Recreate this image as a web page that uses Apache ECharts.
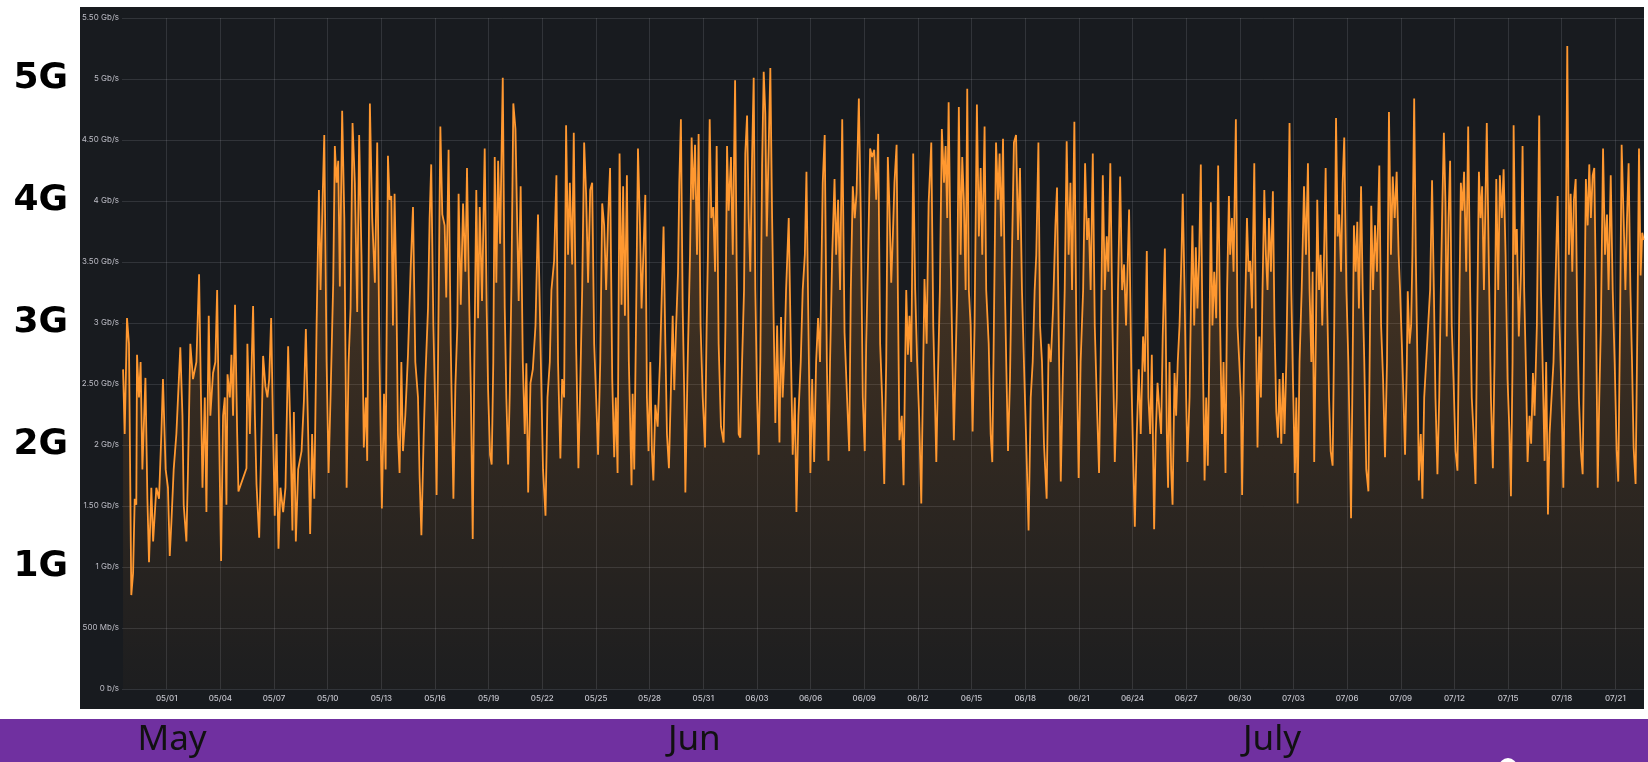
<!DOCTYPE html>
<html><head><meta charset="utf-8">
<script src="https://cdn.jsdelivr.net/npm/echarts@6/dist/echarts.min.js"></script>
<style>html,body{margin:0;padding:0;background:#fff;}#c{width:1648px;height:762px;}</style>
</head><body><div id="c"></div>
<script>
// x values are days counted from 04/01 00:00 (05/01 = 30, 06/01 = 61, 07/01 = 91)
const xTickDays = [30,33,36,39,42,45,48,51,54,57,60,63,66,69,72,75,78,81,84,87,90,93,96,99,102,105,108,111];
const xTickLabels = ['05/01','05/04','05/07','05/10','05/13','05/16','05/19','05/22','05/25','05/28','05/31','06/03','06/06','06/09','06/12','06/15','06/18','06/21','06/24','06/27','06/30','07/03','07/06','07/09','07/12','07/15','07/18','07/21'];
const yTickLabels = ['0 b/s','500 Mb/s','1 Gb/s','1.50 Gb/s','2 Gb/s','2.50 Gb/s','3 Gb/s','3.50 Gb/s','4 Gb/s','4.50 Gb/s','5 Gb/s','5.50 Gb/s'];
const sideLabels = ['1G','2G','3G','4G','5G'];
const monthLabels = ['May','Jun','July'];
const monthLabelDays = [30.3, 59.5, 91.8];

// [day, Gb/s]
const traffic = [
[27.56,2.62],[27.65,2.09],[27.78,3.04],[27.89,2.83],[28.02,0.77],[28.12,0.95],[28.21,1.56],[28.30,1.51],[28.34,2.74],[28.45,2.39],[28.54,2.68],[28.64,1.80],[28.81,2.55],[28.92,1.56],[29.01,1.04],[29.14,1.65],[29.24,1.21],[29.42,1.65],[29.57,1.56],[29.70,2.09],[29.79,2.54],[29.94,1.80],
[30.07,1.65],[30.17,1.09],[30.26,1.36],[30.39,1.80],[30.54,2.09],[30.76,2.80],[30.88,2.24],[30.95,1.51],[31.10,1.21],[31.19,1.80],[31.32,2.83],[31.47,2.54],[31.66,2.68],[31.81,3.40],[31.90,2.54],[32.00,1.65],[32.13,2.39],[32.22,1.45],[32.35,3.06],[32.44,2.24],[32.59,2.59],[32.72,2.68],[32.82,3.27],[32.93,2.09],
[33.04,1.05],[33.15,2.24],[33.25,2.39],[33.34,1.51],[33.40,2.58],[33.53,2.39],[33.62,2.74],[33.71,2.24],[33.82,3.15],[33.94,2.09],[34.01,1.62],[34.46,1.81],[34.51,2.83],[34.65,2.09],[34.83,3.14],[34.93,2.24],[35.02,1.68],[35.17,1.24],[35.30,2.09],[35.39,2.73],[35.52,2.48],[35.63,2.39],[35.73,2.54],[35.84,3.04],[35.95,2.09],
[36.04,1.42],[36.14,2.09],[36.25,1.15],[36.36,1.65],[36.51,1.45],[36.64,1.65],[36.79,2.81],[36.92,2.09],[37.03,1.30],[37.11,2.27],[37.22,1.21],[37.35,1.80],[37.54,1.95],[37.67,2.36],[37.78,2.95],[37.91,2.09],[38.02,1.27],[38.13,2.09],[38.25,1.56],[38.38,2.98],[38.51,4.09],[38.60,3.27],[38.71,3.98],[38.81,4.54],[38.94,2.68],
[39.05,1.77],[39.16,2.39],[39.31,3.33],[39.40,4.45],[39.50,4.15],[39.59,4.33],[39.68,3.30],[39.81,4.74],[39.93,3.86],[40.06,1.65],[40.17,2.68],[40.28,3.12],[40.39,4.64],[40.52,4.15],[40.65,3.09],[40.76,4.54],[40.89,3.56],[41.02,1.98],[41.14,2.39],[41.21,1.87],[41.36,4.80],[41.49,3.86],[41.64,3.33],
[41.77,4.48],[41.90,2.68],[42.03,1.48],[42.15,2.42],[42.24,1.80],[42.37,4.37],[42.46,4.01],[42.56,4.04],[42.65,2.98],[42.74,4.06],[42.84,3.27],[42.93,2.09],[43.02,1.77],[43.12,2.68],[43.21,1.95],[43.34,2.24],[43.49,2.74],[43.64,3.45],[43.77,3.95],[43.90,2.68],[44.05,2.39],[44.14,1.74],[44.24,1.26],[44.37,2.09],[44.46,2.54],[44.61,3.12],[44.70,3.86],[44.79,4.30],[44.91,2.98],
[45.02,2.24],[45.09,1.59],[45.17,2.68],[45.30,4.61],[45.41,3.89],[45.54,3.80],[45.63,3.21],[45.76,4.42],[45.88,2.83],[46.03,1.56],[46.14,2.48],[46.25,2.98],[46.32,4.06],[46.44,3.15],[46.57,3.98],[46.70,3.42],[46.79,4.27],[46.90,3.27],[47.01,2.39],[47.11,1.23],[47.20,2.68],[47.31,4.09],[47.41,3.04],[47.50,3.95],[47.63,3.18],[47.78,4.43],[47.89,3.12],[47.97,2.45],
[48.08,1.92],[48.17,1.84],[48.26,2.68],[48.34,4.36],[48.43,3.33],[48.53,4.33],[48.64,3.65],[48.79,5.01],[48.90,3.12],[48.99,2.39],[49.09,1.84],[49.18,2.42],[49.27,3.27],[49.38,4.80],[49.50,4.59],[49.59,3.86],[49.68,3.18],[49.79,4.12],[49.91,2.68],
[50.02,2.09],[50.11,2.67],[50.21,1.61],[50.34,2.51],[50.47,2.62],[50.62,2.98],[50.76,3.89],[50.90,2.83],[51.04,1.80],[51.18,1.42],[51.29,2.39],[51.42,2.68],[51.51,3.27],[51.66,3.51],[51.79,4.21],[51.88,2.68],[52.01,1.89],[52.11,2.54],[52.22,2.39],[52.33,4.62],[52.44,3.56],[52.54,4.15],[52.67,3.48],[52.76,4.56],[52.89,2.83],
[53.02,1.81],[53.13,2.54],[53.23,3.27],[53.34,4.48],[53.45,4.06],[53.56,3.33],[53.68,4.09],[53.79,4.15],[53.90,2.83],[54.01,2.39],[54.12,1.92],[54.24,2.68],[54.35,3.98],[54.46,3.80],[54.57,3.27],[54.68,3.86],[54.79,4.27],[54.91,2.54],[55.02,1.90],[55.11,2.39],[55.21,1.77],[55.32,4.39],[55.43,3.15],[55.52,4.12],[55.62,3.06],[55.73,4.21],[55.84,2.68],[55.99,1.67],
[56.05,2.42],[56.14,1.80],[56.24,2.98],[56.35,4.43],[56.46,3.80],[56.55,3.12],[56.65,3.56],[56.76,4.05],[56.85,2.39],[56.94,1.95],[57.04,2.68],[57.13,1.95],[57.21,1.71],[57.32,2.33],[57.45,2.15],[57.58,2.68],[57.67,3.18],[57.78,3.79],[57.88,2.83],[57.97,2.09],[58.08,1.81],[58.18,2.39],[58.29,3.06],[58.38,2.45],[58.47,2.92],[58.59,3.42],[58.66,4.15],[58.75,4.67],[58.85,3.12],[58.94,2.39],
[59.00,1.61],[59.13,2.68],[59.26,3.56],[59.35,4.52],[59.44,4.01],[59.54,4.46],[59.65,3.56],[59.74,4.55],[59.85,2.98],[59.97,2.39],[60.10,1.98],[60.19,2.98],[60.26,3.56],[60.36,4.67],[60.45,3.86],[60.56,3.95],[60.66,3.42],[60.75,4.45],[60.86,2.83],[60.99,2.15],
[61.14,2.02],[61.24,2.98],[61.33,4.45],[61.42,3.92],[61.55,4.36],[61.65,3.56],[61.78,4.99],[61.87,3.42],[61.98,2.09],[62.07,2.06],[62.17,2.68],[62.28,3.27],[62.35,4.39],[62.45,4.70],[62.54,3.86],[62.63,3.42],[62.73,4.36],[62.82,5.01],[62.91,3.27],[63.01,2.39],[63.10,1.92],[63.19,2.68],[63.29,4.30],[63.38,5.06],[63.47,4.71],[63.55,3.71],[63.66,4.45],[63.75,5.09],[63.85,3.86],[63.94,2.98],
[64.03,2.18],[64.13,2.98],[64.26,2.02],[64.35,3.05],[64.44,2.39],[64.54,2.74],[64.63,3.27],[64.78,3.86],[64.91,2.68],[65.00,1.92],[65.12,2.39],[65.21,1.45],[65.32,2.24],[65.45,2.68],[65.56,3.27],[65.68,3.56],[65.77,4.24],[65.88,2.98],[65.99,1.77],[66.09,2.54],[66.20,1.86],[66.31,2.68],[66.42,3.04],[66.53,2.68],[66.68,4.15],[66.79,4.54],[66.91,2.68],
[67.00,1.87],[67.09,2.68],[67.21,3.56],[67.34,4.18],[67.43,3.56],[67.54,4.01],[67.65,3.27],[67.77,4.67],[67.90,2.92],[68.04,2.39],[68.16,1.95],[68.25,3.27],[68.36,4.12],[68.47,3.86],[68.57,4.06],[68.70,4.84],[68.81,3.86],[68.92,2.39],[69.03,1.95],[69.11,2.83],[69.22,3.56],[69.33,4.43],[69.44,4.36],[69.56,4.42],[69.67,4.01],[69.78,4.55],[69.89,2.83],
[70.00,2.39],[70.12,1.68],[70.23,2.68],[70.32,4.36],[70.41,3.95],[70.51,3.33],[70.60,3.71],[70.69,4.15],[70.81,4.46],[70.88,3.27],[70.97,2.04],[71.10,2.24],[71.20,1.67],[71.29,2.68],[71.35,3.27],[71.44,2.74],[71.53,3.06],[71.63,2.68],[71.74,4.39],[71.85,3.27],[71.96,2.68],
[72.07,2.24],[72.19,1.52],[72.30,2.68],[72.37,3.36],[72.49,2.83],[72.60,3.98],[72.75,4.48],[72.86,2.98],[72.93,2.54],[73.03,1.86],[73.12,2.54],[73.23,3.27],[73.34,4.59],[73.46,4.15],[73.55,4.45],[73.64,3.86],[73.72,4.81],[73.83,3.56],[73.92,2.83],[74.01,2.04],[74.11,2.68],[74.20,3.27],[74.29,4.77],[74.39,3.56],[74.48,4.36],[74.57,4.01],[74.67,3.27],[74.76,4.92],[74.85,3.27],[74.95,2.98],
[75.06,2.11],[75.17,2.98],[75.30,4.79],[75.41,3.71],[75.51,4.27],[75.60,3.56],[75.73,4.61],[75.82,3.27],[75.96,2.83],[76.07,2.09],[76.16,1.86],[76.25,2.98],[76.37,4.48],[76.48,4.01],[76.57,4.39],[76.66,3.71],[76.76,4.51],[76.85,3.42],[76.94,2.68],[77.04,1.95],[77.15,2.54],[77.26,3.56],[77.37,4.48],[77.49,4.54],[77.60,3.68],[77.71,4.27],[77.82,3.27],[77.93,2.68],
[78.06,2.01],[78.19,1.30],[78.31,2.39],[78.42,2.68],[78.53,3.27],[78.62,3.56],[78.74,4.48],[78.83,2.98],[78.94,2.68],[79.05,2.01],[79.20,1.56],[79.31,2.83],[79.43,2.68],[79.56,3.12],[79.69,3.80],[79.78,4.11],[79.87,2.98],[79.99,1.70],[80.10,2.54],[80.21,3.27],[80.32,4.49],[80.43,3.56],[80.53,4.15],[80.62,3.27],[80.75,4.65],[80.86,2.98],[80.99,1.73],
[81.10,2.68],[81.24,3.27],[81.35,4.31],[81.46,3.68],[81.55,3.86],[81.66,3.27],[81.78,4.39],[81.89,2.98],[82.00,2.39],[82.13,1.77],[82.22,2.68],[82.34,4.21],[82.45,3.27],[82.56,3.71],[82.65,3.42],[82.76,4.31],[82.88,2.98],[83.01,1.86],[83.12,2.39],[83.19,3.27],[83.31,4.20],[83.42,3.27],[83.53,3.48],[83.64,2.98],[83.81,3.93],[83.94,2.54],
[84.03,1.95],[84.13,1.33],[84.24,2.09],[84.35,2.62],[84.46,2.09],[84.59,2.89],[84.69,2.60],[84.80,3.59],[84.89,2.39],[84.99,2.09],[85.08,2.74],[85.21,1.31],[85.30,2.09],[85.40,2.51],[85.51,2.27],[85.60,2.09],[85.69,2.89],[85.81,3.61],[85.92,2.09],[85.99,1.65],[86.07,2.68],[86.16,1.80],[86.24,1.51],[86.35,2.59],[86.44,2.24],[86.53,2.68],[86.63,2.98],[86.74,3.56],[86.81,4.06],[86.91,3.27],
[87.00,2.39],[87.07,1.86],[87.19,2.39],[87.28,3.27],[87.35,3.80],[87.45,2.98],[87.54,3.62],[87.63,3.12],[87.73,3.56],[87.82,4.30],[87.91,2.98],[88.03,1.71],[88.12,2.39],[88.21,1.83],[88.29,2.68],[88.38,3.99],[88.47,2.98],[88.57,3.42],[88.68,3.04],[88.79,4.29],[88.90,2.98],
[89.00,2.09],[89.09,2.68],[89.20,1.77],[89.29,3.27],[89.39,4.04],[89.46,3.56],[89.56,3.86],[89.65,3.42],[89.78,4.67],[89.87,2.98],[89.97,2.68],[90.06,2.39],[90.13,1.59],[90.23,2.68],[90.32,3.27],[90.40,3.86],[90.49,3.42],[90.58,3.51],[90.68,3.12],[90.81,4.31],[90.90,2.98],[90.99,1.98],
[91.09,2.89],[91.18,2.39],[91.27,3.27],[91.37,4.09],[91.46,3.56],[91.55,3.27],[91.63,3.86],[91.74,3.42],[91.85,4.08],[91.94,2.98],[92.04,2.27],[92.13,2.06],[92.22,2.54],[92.32,2.01],[92.41,2.59],[92.50,2.09],[92.60,2.68],[92.69,3.56],[92.78,4.64],[92.88,3.27],[92.97,2.54],
[93.08,1.77],[93.16,2.39],[93.23,1.52],[93.34,2.68],[93.46,3.27],[93.59,4.12],[93.70,3.56],[93.81,4.31],[93.90,3.27],[94.00,2.68],[94.07,3.42],[94.16,1.86],[94.26,2.98],[94.33,4.01],[94.43,3.27],[94.52,3.56],[94.61,2.98],[94.71,3.56],[94.80,4.27],[94.89,3.12],[94.99,2.39],
[95.08,1.95],[95.19,1.83],[95.28,2.98],[95.38,4.68],[95.47,3.71],[95.56,3.89],[95.66,3.42],[95.75,4.15],[95.84,4.52],[95.96,3.27],[96.07,2.68],[96.14,2.09],[96.22,1.40],[96.31,2.68],[96.38,3.80],[96.48,3.42],[96.57,3.83],[96.66,3.12],[96.78,4.12],[96.87,3.27],[96.96,2.68],
[97.07,1.80],[97.19,1.62],[97.26,2.68],[97.35,3.96],[97.45,3.27],[97.56,3.80],[97.67,3.42],[97.80,4.29],[97.90,2.98],[98.01,2.54],[98.12,1.90],[98.23,2.68],[98.34,4.73],[98.45,3.56],[98.55,4.20],[98.66,3.86],[98.77,4.24],[98.88,3.56],
[98.96,3.27],[99.06,2.83],[99.15,2.39],[99.24,1.92],[99.34,2.68],[99.39,3.26],[99.49,2.83],[99.58,2.98],[99.65,3.56],[99.75,4.84],[99.84,3.56],[99.93,2.68],[100.01,1.71],[100.12,2.09],[100.21,1.56],[100.31,2.39],[100.42,2.68],[100.53,2.98],[100.64,3.27],[100.75,4.17],[100.85,3.27],[100.94,2.39],
[101.05,1.76],[101.15,2.39],[101.24,3.27],[101.33,4.01],[101.41,4.56],[101.50,3.98],[101.57,2.89],[101.67,3.86],[101.76,4.33],[101.85,2.98],[101.95,2.54],[102.06,1.95],[102.17,1.79],[102.26,2.98],[102.36,4.15],[102.45,3.92],[102.54,4.24],[102.66,3.42],[102.77,4.61],[102.88,3.27],[102.97,2.39],
[103.07,2.09],[103.18,1.68],[103.27,2.98],[103.37,4.24],[103.46,3.86],[103.55,4.12],[103.65,3.27],[103.81,4.64],[103.93,3.42],[104.04,2.39],[104.15,1.81],[104.24,2.68],[104.34,4.18],[104.45,3.27],[104.54,4.21],[104.65,3.86],[104.75,4.26],[104.86,3.56],[104.97,2.54],
[105.08,2.09],[105.16,1.58],[105.25,2.68],[105.31,4.62],[105.40,3.56],[105.49,3.77],[105.60,2.89],[105.72,3.42],[105.81,4.45],[105.90,3.27],[106.01,2.54],[106.09,1.86],[106.20,2.24],[106.29,2.01],[106.39,2.59],[106.48,2.24],[106.61,2.98],[106.74,4.70],[106.84,3.27],[106.95,2.54],
[107.04,1.87],[107.13,2.68],[107.23,1.43],[107.32,2.09],[107.43,2.39],[107.54,2.68],[107.64,3.27],[107.77,4.04],[107.88,2.98],[107.99,2.39],[108.09,1.65],[108.18,2.68],[108.31,5.27],[108.40,3.56],[108.50,4.06],[108.59,3.42],[108.68,4.01],[108.78,4.18],[108.87,2.98],[108.96,2.39],
[109.07,1.95],[109.17,1.76],[109.26,2.98],[109.35,4.18],[109.45,3.80],[109.54,4.30],[109.63,3.86],[109.73,4.21],[109.82,4.27],[109.91,3.27],[110.01,1.65],[110.10,2.39],[110.19,2.98],[110.31,4.43],[110.42,3.56],[110.53,3.89],[110.62,3.27],[110.74,4.21],[110.85,3.27],[110.96,2.68],
[111.07,1.96],[111.16,1.70],[111.26,2.98],[111.35,4.46],[111.46,3.86],[111.56,3.27],[111.65,3.86],[111.74,4.31],[111.84,3.27],[111.93,2.68],[112.02,1.98],[112.13,1.68],[112.23,2.98],[112.32,4.43],[112.41,3.39],[112.50,3.74],[112.58,3.68]
];

const chart = echarts.init(document.getElementById('c'), null, {renderer: 'canvas'});
const gridColor = 'rgba(204,204,220,0.14)';
chart.setOption({
  animation: false,
  backgroundColor: '#ffffff',
  grid: {left: 122, right: 4, top: 18, bottom: 73, containLabel: false},
  xAxis: {
    type: 'value', min: 27.5, max: 112.6,
    axisLine: {show: false},
    axisTick: {show: false, customValues: xTickDays},
    axisLabel: {
      customValues: xTickDays, margin: 6, color: '#c4c4cc', fontSize: 8, fontWeight: 500,
      fontFamily: 'Inter',
      formatter: v => { const i = xTickDays.indexOf(Math.round(v)); return i >= 0 ? xTickLabels[i] : ''; }
    },
    splitLine: {show: true, lineStyle: {color: gridColor, width: 1}}
  },
  yAxis: [{
    type: 'value', min: 0, max: 5.5, interval: 0.5,
    axisLine: {show: false}, axisTick: {show: false},
    axisLabel: {
      margin: 3, color: '#bdbdc6', fontSize: 8, fontFamily: 'Inter',
      formatter: v => yTickLabels[Math.round(v * 2)] || ''
    },
    splitLine: {show: true, lineStyle: {color: gridColor, width: 1}}
  }, {
    type: 'value', min: 0, max: 5.5, interval: 1, position: 'left',
    axisLine: {show: false}, axisTick: {show: false}, splitLine: {show: false},
    axisLabel: {
      margin: 54, color: '#000000', fontSize: 36, fontWeight: 'bold', fontFamily: 'DejaVu Sans',
      formatter: v => (v >= 1 && v <= 5 && Math.abs(v - Math.round(v)) < 1e-6) ? sideLabels[Math.round(v) - 1] : ''
    }
  }],
  series: [{
    type: 'line', data: traffic, showSymbol: false, symbol: 'none',
    lineStyle: {color: '#ff9830', width: 1.8},
    itemStyle: {color: '#ff9830'},
    areaStyle: {
      color: new echarts.graphic.LinearGradient(0, 0, 0, 1, [
        {offset: 0, color: 'rgba(255,152,48,0.42)'},
        {offset: 0.6, color: 'rgba(255,152,48,0.16)'},
        {offset: 1, color: 'rgba(255,152,48,0.03)'}
      ])
    },
    z: 3
  }]
});

const monthGraphics = monthLabels.map((m, i) => ({
  type: 'text', z: 100,
  x: chart.convertToPixel({xAxisIndex: 0}, monthLabelDays[i]), y: 740,
  style: {text: m, fill: '#111111', font: '35px "Noto Sans"', textAlign: 'center', textVerticalAlign: 'middle'}
}));

chart.setOption({
  graphic: [
    {type: 'rect', z: -100, shape: {x: 80, y: 7, width: 1564, height: 702}, style: {fill: '#181b1f'}},
    {type: 'rect', z: -100, shape: {x: 0, y: 719, width: 1648, height: 43}, style: {fill: '#7030a0'}},
    {type: 'circle', z: 100, shape: {cx: 1508, cy: 767, r: 9}, style: {fill: '#ffffff'}}
  ].concat(monthGraphics)
});
</script></body></html>
